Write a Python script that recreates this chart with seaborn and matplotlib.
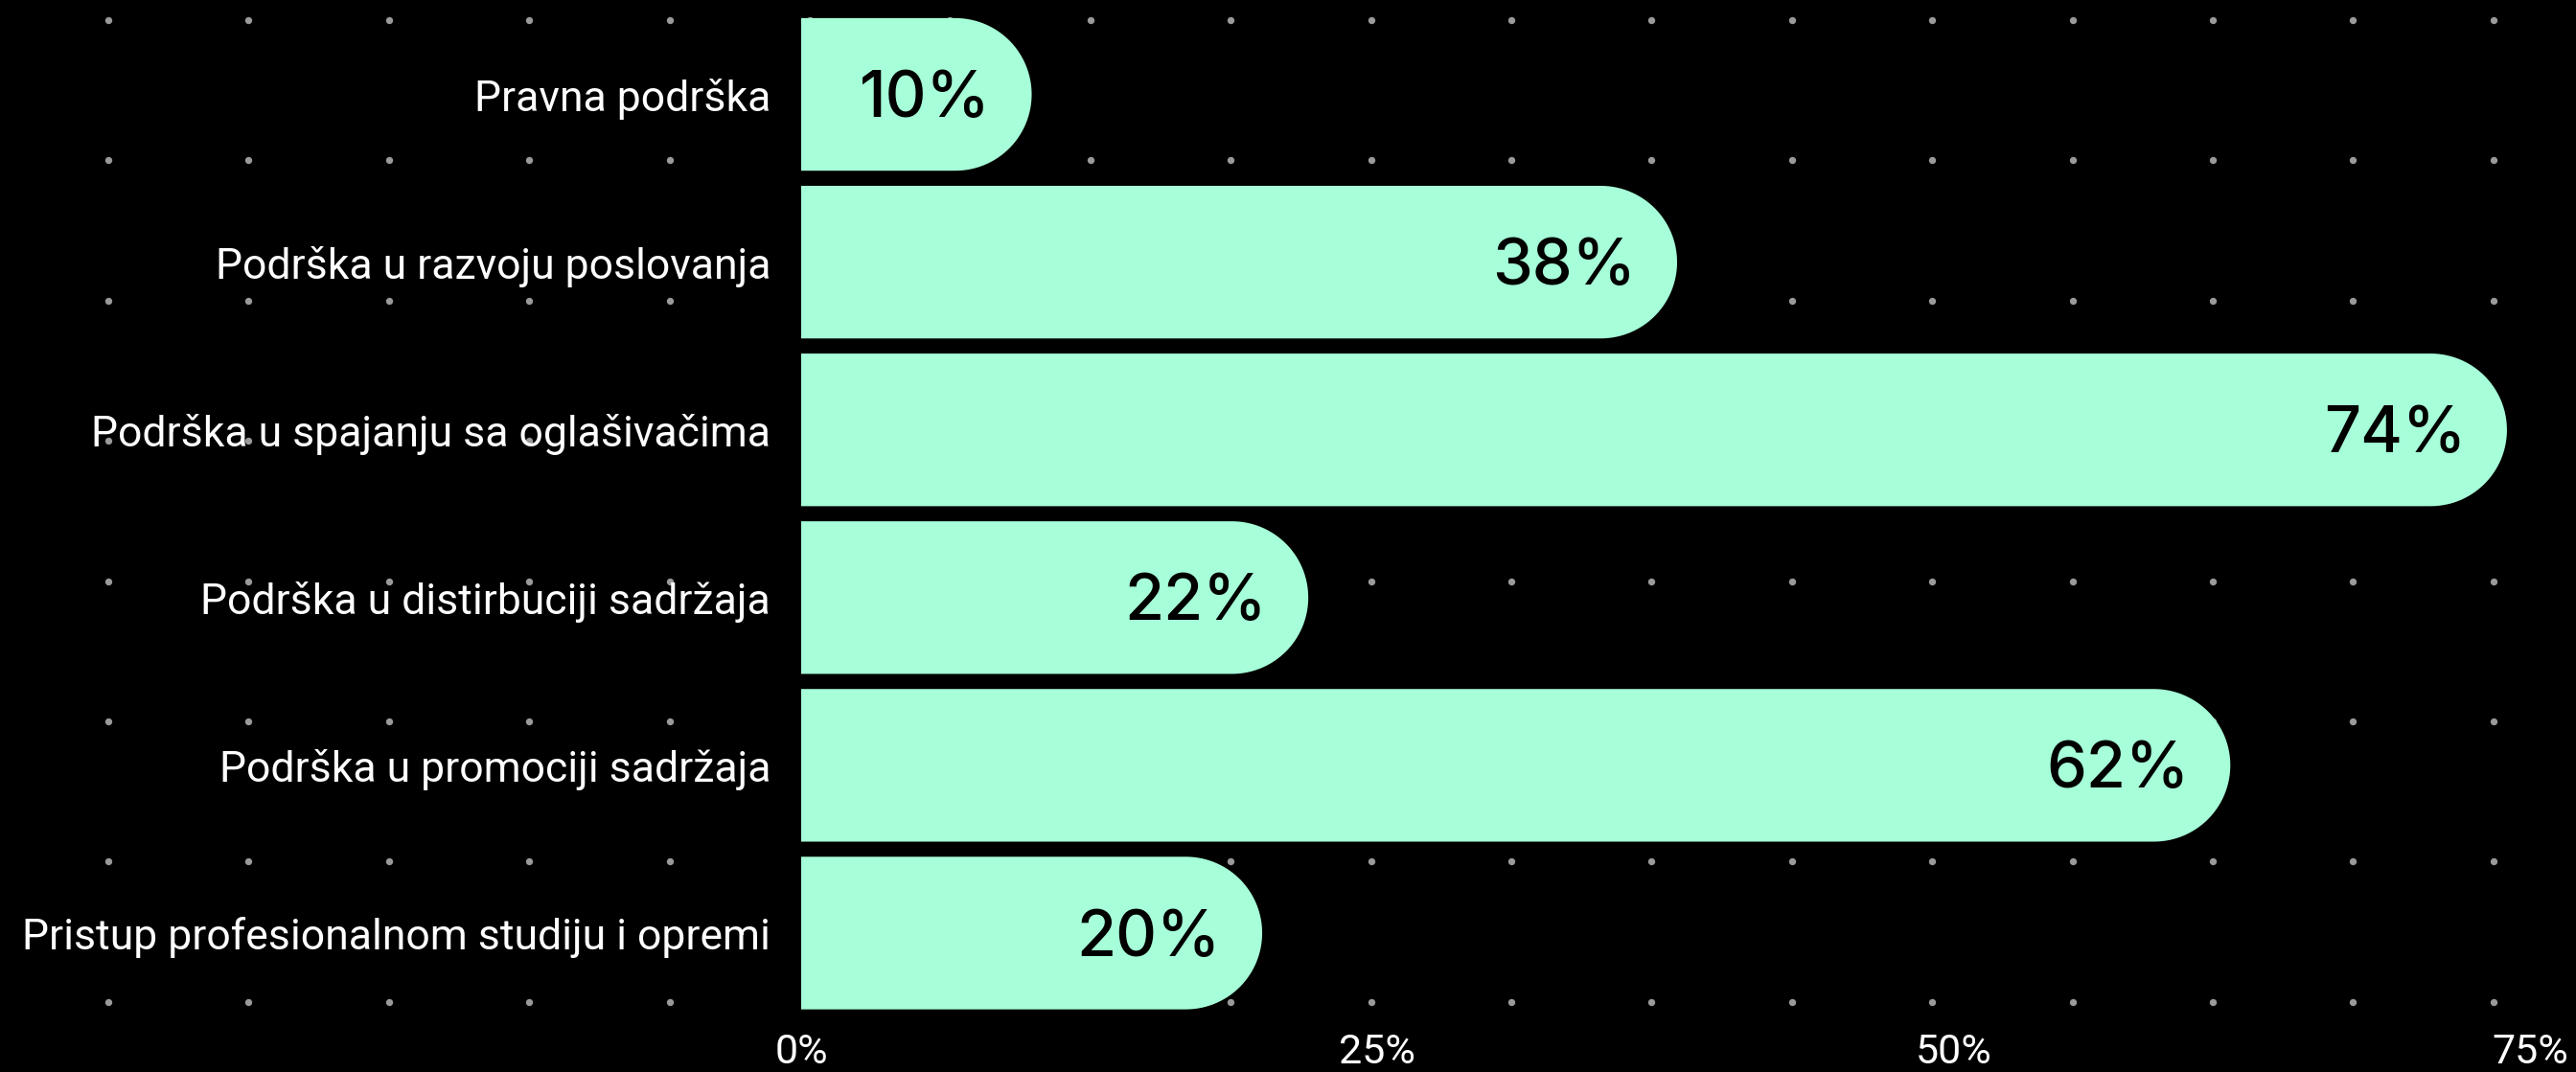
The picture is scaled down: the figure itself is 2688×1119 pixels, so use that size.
import matplotlib
matplotlib.use("Agg")
import matplotlib.pyplot as plt
import numpy as np
import seaborn as sns
from matplotlib.path import Path
from matplotlib.patches import PathPatch

categories = [
    "Pravna podrška",
    "Podrška u razvoju poslovanja",
    "Podrška u spajanju sa oglašivačima",
    "Podrška u distirbuciji sadržaja",
    "Podrška u promociji sadržaja",
    "Pristup profesionalnom studiju i opremi",
]
values = [10, 38, 74, 22, 62, 20]
xticks = [0, 25, 50, 75]
xticklabels = ["0%", "25%", "50%", "75%"]

mint = "#a6ffd8"
dot_grey = "#9a9a9a"

sns.set_style("white")
plt.rcParams["font.family"] = ["Roboto", "DejaVu Sans"]

W, H = 2688, 1119
fig = plt.figure(figsize=(W / 100, H / 100), dpi=100, facecolor="black")

# dotted background pattern
bg = fig.add_axes([0, 0, 1, 1], zorder=0)
bg.set_xlim(0, W)
bg.set_ylim(H, 0)
bg.axis("off")
bg.set_facecolor("black")
gx, gy = np.meshgrid(113 + 146.4 * np.arange(18), 21 + 146.4 * np.arange(8))
bg.scatter(gx.ravel(), gy.ravel(), s=28, color=dot_grey, linewidths=0)

ax = fig.add_axes([836 / W, (H - 1061.5) / H, (2640 - 836) / W, 1050.5 / H], zorder=1)
ax.patch.set_alpha(0)
sns.barplot(x=values, y=categories, orient="h", color=mint, width=0.91,
            saturation=1, ax=ax)
ax.set_xlim(0, 75)
ax.set_ylim(5.5, -0.5)

# swap the square bars for bars with a round right end
px_x = ax.transData.transform((1, 0))[0] - ax.transData.transform((0, 0))[0]
px_y = abs(ax.transData.transform((0, 1))[1] - ax.transData.transform((0, 0))[1])
for p in list(ax.patches):
    x0, y0, w, h = p.get_x(), p.get_y(), p.get_width(), p.get_height()
    p.remove()
    ry = h / 2
    rx = ry * px_y / px_x
    yc = y0 + ry
    t = np.linspace(np.pi / 2, -np.pi / 2, 60)
    arc = np.column_stack([x0 + w - rx + rx * np.cos(t), yc + ry * np.sin(t)])
    pts = np.vstack([[x0, y0 + h], arc, [x0, y0], [x0, y0 + h]])
    ax.add_patch(PathPatch(Path(pts), facecolor=mint, edgecolor="none", zorder=2))

for i, v in enumerate(values):
    ax.annotate(f"{v}%", xy=(v, i), xytext=(-31, -17), textcoords="offset points",
                ha="right", va="baseline", fontsize=48, fontweight="medium",
                family=["Inter", "DejaVu Sans"], color="black", zorder=3)

ax.set_xticks(xticks)
ax.set_xticklabels(xticklabels)
ax.tick_params(axis="x", length=0, pad=12, labelsize=31, labelcolor="white")
ax.tick_params(axis="y", length=0, pad=23, labelsize=32, labelcolor="white")
ax.set_xlabel("")
ax.set_ylabel("")
sns.despine(ax=ax, left=True, bottom=True)
ax.grid(False)

fig.savefig("out.png", dpi=100, facecolor="black")
